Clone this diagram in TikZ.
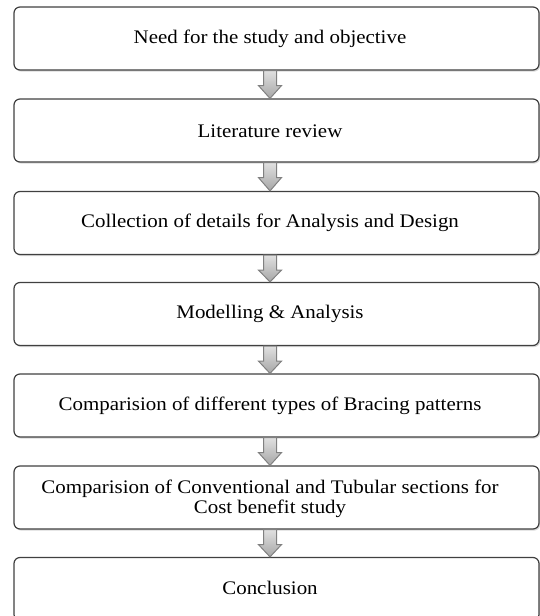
\documentclass[tikz,border=0pt]{standalone}
\usepackage{fontspec}
\setmainfont{Liberation Serif}[FakeStretch=1.09]
\usetikzlibrary{calc,shadows}

\tikzset{
  stage/.style={draw=black!75, line width=0.6pt, rounded corners=3pt, fill=white,
    minimum width=262.5pt, minimum height=31.5pt, inner sep=0pt,
    drop shadow={shadow xshift=0.6pt, shadow yshift=-0.8pt, fill=black!30, opacity=0.5}},
  stagetext/.style={align=center, font=\fontsize{9.6}{8.6}\selectfont, inner sep=0pt},
  blockarrow/.style={draw=black!50, line width=0.5pt, top color=black!12, bottom color=black!35}
}

\newcommand{\flowarrow}[2]{%
  \coordinate (a) at (#1.south -| t#1);
  \coordinate (b) at (#2.north -| t#1);
  \draw[blockarrow] ($(a)+(-6.5,0)$) -- ($(a)+(6.5,0)$) -- ($(a)+(6.5,15)$)
    -- ($(a)+(11.5,15)$) -- (b) -- ($(a)+(-11.5,15)$) -- ($(a)+(-6.5,15)$) -- cycle;
}

\begin{document}
\begin{tikzpicture}[x=0.5pt, y=-0.5pt]
  \useasboundingbox (0,0) rectangle (540,616);
  \clip (0,0) rectangle (540,616);

  \node[stage] (s1) at (276.5, 38.5) {};
  \node[stage] (s2) at (276.5, 130.5) {};
  \node[stage] (s3) at (276.5, 223) {};
  \node[stage] (s4) at (276.5, 314) {};
  \node[stage] (s5) at (276.5, 405.5) {};
  \node[stage] (s6) at (276.5, 497.5) {};
  \node[stage] (s7) at (276.5, 589) {};

  \node[stagetext] (ts1) at (270, 39) {Need for the study and objective};
  \node[stagetext] (ts2) at (270, 131) {Literature review};
  \node[stagetext] (ts3) at (270, 223) {Collection of details for Analysis and Design};
  \node[stagetext] (ts4) at (270, 314) {Modelling \& Analysis};
  \node[stagetext] (ts5) at (270, 406) {Comparision of different types of Bracing patterns};
  \node[stagetext] (ts6) at (270, 499) {Comparision of Conventional and Tubular sections for\\Cost benefit study};
  \node[stagetext] (ts7) at (270, 588) {Conclusion};

  \foreach \i/\j in {s1/s2, s2/s3, s3/s4, s4/s5, s5/s6, s6/s7}
    {\flowarrow{\i}{\j}}
\end{tikzpicture}
\end{document}
